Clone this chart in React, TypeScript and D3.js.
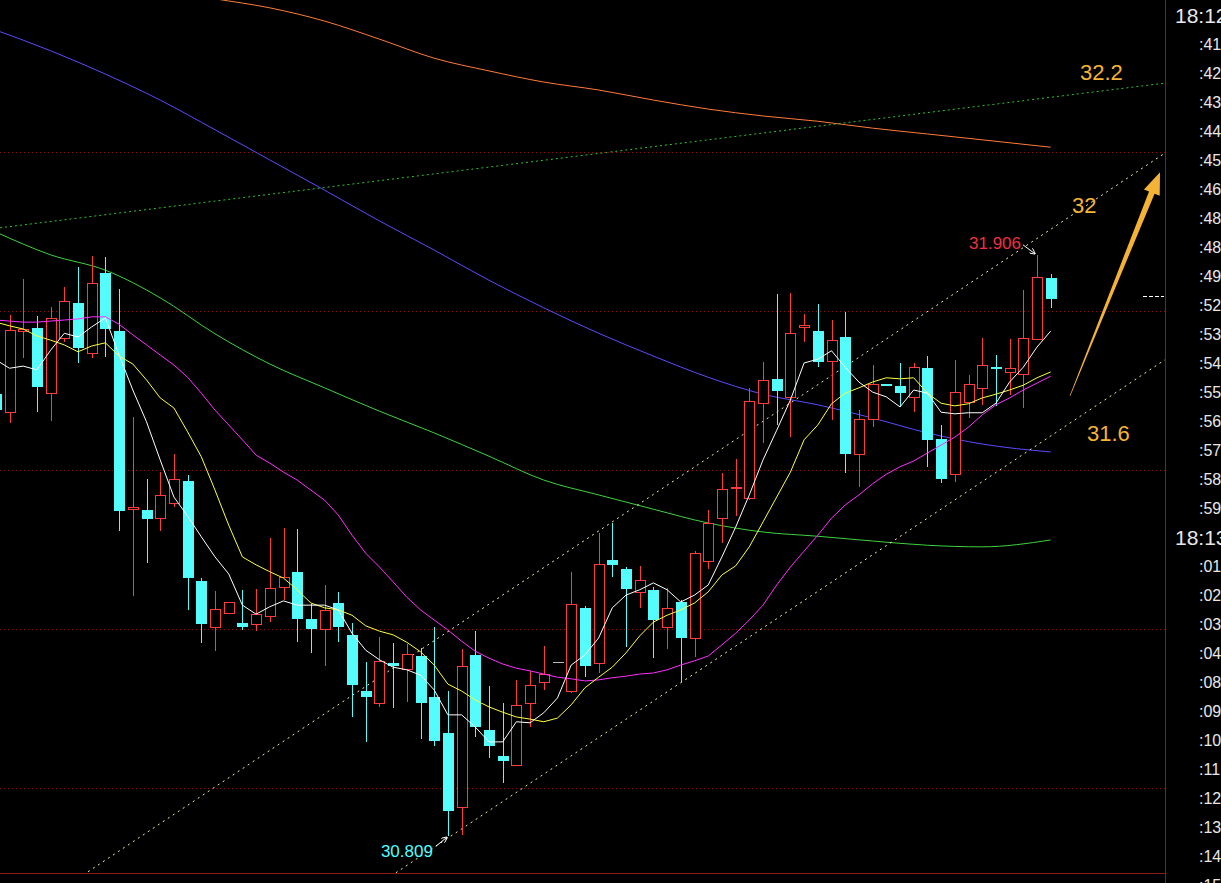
import React from 'react';
import * as d3 from 'd3';

const W = 1221;
const H = 883;
const PLOT_R = 1165;
const PLOT_B = 873;

// ---- OHLC (one entry per bar, oldest first) ----
const opens = [31.643,31.609,31.762,31.768,31.645,31.749,31.815,31.721,31.872,31.762,31.426,31.425,31.409,31.438,31.479,31.291,31.204,31.230,31.211,31.209,31.225,31.279,31.308,31.219,31.200,31.249,31.189,31.083,31.060,31.136,31.125,31.149,31.072,31.004,30.864,31.151,31.009,30.960,30.943,31.060,31.100,31.138,31.083,31.240,31.136,31.330,31.313,31.270,31.274,31.204,31.251,31.183,31.328,31.409,31.466,31.447,31.626,31.672,31.638,31.770,31.762,31.706,31.751,31.530,31.596,31.662,31.658,31.638,31.692,31.558,31.492,31.628,31.655,31.694,31.685,31.681,31.747,31.862];
const highs = [31.660,31.792,31.860,31.791,31.808,31.845,31.883,31.903,31.902,31.842,31.600,31.483,31.496,31.530,31.491,31.296,31.272,31.251,31.274,31.275,31.372,31.391,31.389,31.247,31.283,31.270,31.211,31.138,31.185,31.174,31.172,31.164,31.204,31.083,31.162,31.196,31.092,31.060,31.104,31.121,31.168,31.138,31.308,31.243,31.381,31.400,31.317,31.319,31.279,31.277,31.255,31.347,31.425,31.494,31.521,31.655,31.704,31.832,31.834,31.794,31.813,31.783,31.798,31.613,31.698,31.662,31.702,31.702,31.715,31.585,31.708,31.679,31.749,31.717,31.747,31.840,31.906,31.870];
const lows = [31.604,31.589,31.711,31.609,31.592,31.742,31.702,31.711,31.713,31.385,31.262,31.325,31.385,31.430,31.236,31.174,31.158,31.230,31.198,31.196,31.213,31.255,31.175,31.155,31.130,31.175,31.034,30.987,31.053,31.051,31.062,30.992,30.979,30.809,30.811,30.996,30.957,30.909,30.943,31.015,31.085,31.138,31.079,31.109,31.117,31.298,31.166,31.240,31.145,31.162,31.100,31.147,31.313,31.362,31.413,31.443,31.551,31.585,31.562,31.742,31.694,31.594,31.494,31.468,31.581,31.658,31.619,31.609,31.506,31.475,31.477,31.598,31.623,31.621,31.642,31.617,31.745,31.806];
const closes = [31.613,31.764,31.766,31.657,31.787,31.819,31.730,31.853,31.766,31.423,31.430,31.408,31.453,31.483,31.296,31.209,31.238,31.251,31.204,31.228,31.277,31.298,31.219,31.200,31.236,31.204,31.094,31.072,31.140,31.130,31.153,31.060,30.989,30.857,31.130,31.015,30.979,30.951,31.057,31.094,31.115,31.138,31.247,31.130,31.323,31.321,31.275,31.292,31.217,31.240,31.183,31.343,31.400,31.464,31.468,31.630,31.670,31.649,31.758,31.774,31.704,31.745,31.530,31.596,31.662,31.658,31.645,31.694,31.557,31.483,31.647,31.662,31.698,31.691,31.692,31.749,31.864,31.823];

// ---- moving averages ----
const ma5 = [31.708,31.692,31.696,31.689,31.726,31.758,31.751,31.770,31.787,31.717,31.651,31.591,31.519,31.449,31.413,31.374,31.336,31.304,31.245,31.228,31.242,31.253,31.245,31.245,31.245,31.236,31.192,31.160,31.142,31.128,31.123,31.113,31.085,31.038,31.038,31.015,30.987,30.987,31.025,31.023,31.042,31.070,31.132,31.151,31.183,31.240,31.264,31.274,31.287,31.274,31.251,31.264,31.283,31.336,31.392,31.453,31.519,31.575,31.632,31.702,31.709,31.725,31.694,31.666,31.647,31.638,31.619,31.651,31.645,31.609,31.606,31.608,31.608,31.626,31.666,31.694,31.732,31.762];
const ma10 = [31.779,31.772,31.766,31.753,31.745,31.736,31.723,31.734,31.740,31.715,31.700,31.670,31.636,31.617,31.572,31.525,31.462,31.396,31.336,31.321,31.308,31.296,31.274,31.249,31.240,31.236,31.226,31.206,31.196,31.189,31.175,31.157,31.132,31.096,31.083,31.066,31.053,31.043,31.034,31.030,31.025,31.032,31.057,31.089,31.109,31.128,31.155,31.187,31.213,31.226,31.236,31.249,31.270,31.302,31.319,31.355,31.402,31.449,31.496,31.557,31.585,31.625,31.645,31.655,31.666,31.674,31.672,31.674,31.645,31.626,31.621,31.625,31.636,31.643,31.651,31.660,31.674,31.685];
const ma20 = [31.783,31.781,31.779,31.779,31.781,31.783,31.785,31.789,31.789,31.775,31.755,31.736,31.717,31.698,31.675,31.645,31.613,31.585,31.557,31.528,31.513,31.496,31.481,31.462,31.443,31.415,31.377,31.343,31.317,31.289,31.260,31.236,31.217,31.198,31.177,31.158,31.145,31.134,31.126,31.121,31.115,31.109,31.106,31.102,31.104,31.108,31.111,31.115,31.117,31.123,31.132,31.140,31.149,31.170,31.192,31.217,31.245,31.283,31.317,31.347,31.377,31.409,31.434,31.453,31.474,31.492,31.506,31.517,31.532,31.547,31.562,31.581,31.604,31.623,31.636,31.651,31.664,31.677];
// slower averages, sampled every few bars
const slowIdx = [0,4,8,12,16,20,24,28,32,36,40,44,48,52,56,60,64,68,72,77];
const ma60 = [31.949,31.906,31.877,31.825,31.757,31.700,31.655,31.611,31.570,31.526,31.481,31.453,31.426,31.400,31.383,31.375,31.366,31.358,31.355,31.368];
const ma120 = [32.330,32.291,32.247,32.198,32.142,32.085,32.028,31.970,31.915,31.858,31.806,31.758,31.715,31.675,31.643,31.623,31.598,31.570,31.549,31.534];
const ma250 = [32.458,32.442,32.425,32.406,32.389,32.372,32.347,32.313,32.277,32.253,32.232,32.217,32.198,32.181,32.168,32.158,32.145,32.134,32.123,32.109];

// ---- price grid and right-hand time column ----
const gridPrices = [32.1, 31.8, 31.5, 31.2, 30.9];
const timeLabels = ['18:12',':41',':42',':43',':44',':45',':46',':48',':48',':49',':52',':53',':54',':55',':56',':57',':58',':59','18:13',':01',':02',':03',':04',':08',':09',':10',':11',':12',':13',':14',':15'];

// ---- hand-drawn trend lines [barIndex, price] ----
const greenTrend = [[0.31, 31.957], [85.34, 32.23]];
const upperChannel = [[6.73, 30.742], [85.34, 32.098]];
const lowerChannel = [[29.2, 30.74], [85.34, 31.708]];
const levelNotes = [
  { text: '32.2', i: 79.14, p: 32.236 },
  { text: '32', i: 78.55, p: 31.985 },
  { text: '31.6', i: 79.65, p: 31.555 },
];
const arrowTail = [78.41, 31.64];
const arrowTip = [84.98, 32.062];

const RED = '#ff3c3c';
const CYAN = '#54fcfc';
const GOLD = '#f5b335';

export default function App() {
  const n = closes.length;
  const x = d3.scaleLinear().domain([0, n - 1]).range([-4.2, 1050.7]);
  const y = d3.scaleLinear().domain([31.5, 32.1]).range([470, 152]);

  const lineFull = d3.line<number>().x((_, i) => x(i)).y((v) => y(v));
  const lineSlow = d3
    .line<number>()
    .x((_, k) => x(slowIdx[k]))
    .y((v) => y(v))
    .curve(d3.curveMonotoneX);

  const candles = closes.map((c, i) => {
    const o = opens[i];
    const hi = highs[i];
    const lo = lows[i];
    const cx = Math.round(x(i));
    const yTop = Math.round(y(Math.max(o, c)));
    const yBot = Math.round(y(Math.min(o, c)));
    const yH = Math.round(y(hi));
    const yL = Math.round(y(lo));
    if (c > o) {
      return (
        <g key={i} stroke={RED} strokeWidth={1} shapeRendering="crispEdges">
          {yH < yTop && <line x1={cx + 0.5} x2={cx + 0.5} y1={yH} y2={yTop} />}
          {yL > yBot && <line x1={cx + 0.5} x2={cx + 0.5} y1={yBot} y2={yL} />}
          <rect x={cx - 4.5} y={yTop + 0.5} width={10} height={Math.max(1, yBot - yTop)} fill="#000" />
        </g>
      );
    }
    if (c < o) {
      return (
        <g key={i} shapeRendering="crispEdges">
          <line x1={cx + 0.5} x2={cx + 0.5} y1={yH} y2={yL} stroke={CYAN} strokeWidth={1} />
          <rect x={cx - 5} y={yTop} width={11} height={Math.max(2, yBot - yTop)} fill={CYAN} />
        </g>
      );
    }
    return (
      <g key={i} shapeRendering="crispEdges" stroke="#b8b8b8">
        <line x1={cx - 5} x2={cx + 6} y1={yTop + 0.5} y2={yTop + 0.5} />
        {yH < yL && <line x1={cx + 0.5} x2={cx + 0.5} y1={yH} y2={yL} />}
      </g>
    );
  });

  const seg = (pts: number[][]) => ({
    x1: x(pts[0][0]),
    y1: y(pts[0][1]),
    x2: x(pts[1][0]),
    y2: y(pts[1][1]),
  });

  // gold arrow
  const tx = x(arrowTail[0]);
  const ty = y(arrowTail[1]);
  const px = x(arrowTip[0]);
  const py = y(arrowTip[1]);
  const len = Math.hypot(px - tx, py - ty);
  const ux = (px - tx) / len;
  const uy = (py - ty) / len;
  const nx = -uy;
  const ny = ux;
  const bx = px - ux * 22;
  const by = py - uy * 22;
  const arrowPts = [
    [tx - nx * 0.3, ty - ny * 0.3],
    [bx - nx * 3, by - ny * 3],
    [bx - nx * 8.5, by - ny * 8.5],
    [px, py],
    [bx + nx * 8.5, by + ny * 8.5],
    [bx + nx * 3, by + ny * 3],
    [tx + nx * 0.3, ty + ny * 0.3],
  ]
    .map((p) => p.join(','))
    .join(' ');

  // high / low markers
  const hiIdx = highs.indexOf(d3.max(highs) as number);
  const loIdx = lows.indexOf(d3.min(lows) as number);
  const hx = x(hiIdx);
  const hy = y(highs[hiIdx]);
  const lx = x(loIdx);
  const ly = y(lows[loIdx]);

  const font = '"Liberation Sans", Arial, sans-serif';

  return (
    <div style={{ position: 'fixed', left: 0, top: 0, width: W, height: H, background: '#000', overflow: 'hidden' }}>
      <svg width={W} height={H} style={{ display: 'block', background: '#000' }}>
        <defs>
          <clipPath id="plot">
            <rect x={0} y={0} width={PLOT_R} height={PLOT_B} />
          </clipPath>
          <marker id="wa" viewBox="0 0 10 10" refX="9" refY="5" markerWidth="6" markerHeight="6" orient="auto">
            <path d="M0,0 L10,5 L0,10" fill="none" stroke="#fff" strokeWidth="1.5" />
          </marker>
        </defs>
        <rect x={0} y={0} width={W} height={H} fill="#000" />

        {/* grid */}
        {gridPrices.map((p) => (
          <line
            key={p}
            x1={0}
            x2={PLOT_R}
            y1={Math.round(y(p)) + 0.5}
            y2={Math.round(y(p)) + 0.5}
            stroke="#8c1010"
            strokeDasharray="1 3"
            shapeRendering="crispEdges"
          />
        ))}

        <g clipPath="url(#plot)">
          {/* slow MAs */}
          <path d={lineSlow(ma250) || ''} fill="none" stroke="#ff7b3a" strokeWidth={1} />
          <path d={lineSlow(ma120) || ''} fill="none" stroke="#5a4cff" strokeWidth={1} />
          <path d={lineSlow(ma60) || ''} fill="none" stroke="#3fd23f" strokeWidth={1} />

          {/* trend lines */}
          <line {...seg(greenTrend)} stroke="#2fc42f" strokeWidth={1} strokeDasharray="2 3" />
          <line {...seg(upperChannel)} stroke="#f4f4b0" strokeWidth={1} strokeDasharray="2 4" />
          <line {...seg(lowerChannel)} stroke="#f4f4a0" strokeWidth={1} strokeDasharray="2 4" />

          {candles}

          <path d={lineFull(ma20) || ''} fill="none" stroke="#ff30ff" strokeWidth={1} />
          <path d={lineFull(ma10) || ''} fill="none" stroke="#ffff40" strokeWidth={1} />
          <path d={lineFull(ma5) || ''} fill="none" stroke="#ffffff" strokeWidth={1} />

          {/* last price marker */}
          <line
            x1={1143}
            x2={PLOT_R - 1}
            y1={Math.round(y(closes[n - 1])) - 2.5}
            y2={Math.round(y(closes[n - 1])) - 2.5}
            stroke="#fff"
            strokeDasharray="4 2"
            shapeRendering="crispEdges"
          />

          {/* hi/lo annotations */}
          <text x={hx - 16} y={hy - 6} fill="#ee3040" fontSize={17} fontFamily={font} textAnchor="end">
            {highs[hiIdx].toFixed(3)}
          </text>
          <line x1={hx - 14} y1={hy - 10} x2={hx - 2} y2={hy - 1} stroke="#fff" strokeWidth={1} markerEnd="url(#wa)" />
          <text x={lx - 15} y={ly + 21} fill={CYAN} fontSize={17} fontFamily={font} textAnchor="end">
            {lows[loIdx].toFixed(3)}
          </text>
          <line x1={lx - 12} y1={ly + 10} x2={lx - 1} y2={ly + 1} stroke="#fff" strokeWidth={1} markerEnd="url(#wa)" />

          {/* level notes and arrow */}
          {levelNotes.map((d) => (
            <text key={d.text} x={x(d.i)} y={y(d.p)} fill={GOLD} fontSize={22} fontFamily={font}>
              {d.text}
            </text>
          ))}
          <polygon points={arrowPts} fill={GOLD} />
        </g>

        {/* frame */}
        <line x1={0} x2={PLOT_R} y1={PLOT_B + 0.5} y2={PLOT_B + 0.5} stroke="#8c1a1a" shapeRendering="crispEdges" />
        <line x1={PLOT_R + 0.5} x2={PLOT_R + 0.5} y1={0} y2={H} stroke="#8c1a1a" shapeRendering="crispEdges" />

        {/* time column */}
        {timeLabels.map((t, k) => {
          const big = t.startsWith('18');
          return (
            <text
              key={k}
              x={big ? 1175 : 1199}
              y={15 + 29 * k}
              dominantBaseline="central"
              fill="#e8e8e8"
              fontSize={big ? 21 : 16}
              fontFamily={font}
            >
              {t}
            </text>
          );
        })}
      </svg>
    </div>
  );
}
